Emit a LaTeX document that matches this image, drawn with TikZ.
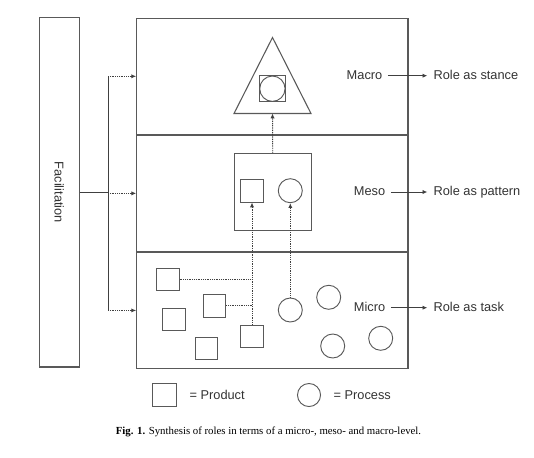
\documentclass[tikz,border=0pt]{standalone}
\usepackage{fontspec}
\setmainfont{Liberation Sans}
\newfontfamily\captionserif{Liberation Serif}
\usetikzlibrary{arrows.meta,positioning}
\begin{document}
\begin{tikzpicture}[x=0.75pt, y=-0.75pt, font=\fontsize{9.6}{11.5}\selectfont]
        \tikzset{
            frame/.style={draw=black!65, line width=0.8pt, inner sep=0pt},
            levelbox/.style={frame, minimum width=203.5pt, minimum height=87pt},
            prodbox/.style={draw=black!65, line width=0.7pt, minimum size=17pt, inner sep=0pt},
            procnode/.style={draw=black!65, line width=0.7pt, circle, minimum size=18pt, inner sep=0pt},
            solidline/.style={draw=black!75, line width=0.6pt},
            dotline/.style={draw=black!75, line width=0.7pt, dash pattern=on 0.75pt off 0.6pt},
            dotarrow/.style={dotline, -{Latex[length=3.6pt,width=3.2pt]}},
            plainarrow/.style={solidline, -{Latex[length=3.6pt,width=3.2pt]}},
            lvltext/.style={text=black!80, inner sep=4pt, text height=7pt, text depth=2pt},
            roletext/.style={text=black!80, anchor=west, inner sep=4.5pt, text height=7pt, text depth=2pt}
        }
        \useasboundingbox (0,0) rectangle (534,457);

        \node[frame, minimum width=30pt, minimum height=262pt] (fac) at (59.3,192.3) {};
        \node[rotate=-90, text=black!80] (factext) at (fac.center) {Facilitation};

        \node[levelbox] (macrolvl) at (272.35,76.3) {};
        \node[levelbox, below=0pt of macrolvl] (mesolvl) {};
        \node[levelbox, below=0pt of mesolvl] (microlvl) {};

        \coordinate (branch) at (108,0);
        \draw[solidline] (macrolvl.west -| branch) -- (microlvl.west -| branch);
        \draw[solidline] (fac.east) -- (fac.east -| branch);
        \draw[dotarrow] (macrolvl.west -| branch) -- (macrolvl.west);
        \draw[dotarrow] (mesolvl.west -| branch) -- (mesolvl.west);
        \draw[dotarrow] (microlvl.west -| branch) -- (microlvl.west);

        \begin{scope}
            \draw[frame] (272.5,37.5) -- (311,113.5) -- (234,113.5) -- cycle;
            \coordinate (tribase) at (272.5,113.5);
            \node[prodbox, minimum size=19.5pt] (macrosq) at (272.4,88.7) {};
            \node[procnode, minimum size=19pt] (macroc) at (macrosq) {};
        \end{scope}

        \begin{scope}
            \node[frame, minimum size=58pt] (mesobox) at (272.75,192) {};
            \node[prodbox] (mesosq) at (252,190.7) {};
            \node[procnode] (mesoc) at (290.3,190.7) {};
            \draw[dotarrow] (mesobox.north) -- (tribase);
        \end{scope}

        \begin{scope}
            \node[prodbox] (s1) at (167.7,279.3) {};
            \node[prodbox] (s2) at (214.3,305.8) {};
            \node[prodbox] (s3) at (174,319.3) {};
            \node[prodbox] (s4) at (206.3,348.3) {};
            \node[prodbox] (s5) at (252,336.5) {};
            \node[procnode] (c1) at (290.3,310) {};
            \node[procnode] (c2) at (328.7,297.3) {};
            \node[procnode] (c3) at (332.7,346) {};
            \node[procnode] (c4) at (380.7,338.3) {};
            \draw[dotline] (s1.east) -- (s1.east -| s5.north);
            \draw[dotline] (s2.east) -- (s2.east -| s5.north);
            \draw[dotarrow] (s5.north) -- (s5.north |- mesosq.south);
            \draw[dotarrow] (c1.north) -- (mesoc.south);
        \end{scope}

        \node[lvltext] (macrotxt) at (364.5,75.7) {Macro};
        \node[roletext] (stance) at (427.3,75.7) {Role as stance};
        \draw[plainarrow] (macrotxt.east) -- (stance.west);
        \node[lvltext] (mesotxt) at (369.5,192) {Meso};
        \node[roletext] (pattern) at (427.3,192) {Role as pattern};
        \draw[plainarrow] (mesotxt.east) -- (pattern.west);
        \node[lvltext] (microtxt) at (369.5,307.7) {Micro};
        \node[roletext] (task) at (427.3,307.7) {Role as task};
        \draw[plainarrow] (microtxt.east) -- (task.west);

        \node[prodbox, minimum size=17.5pt] (legprod) at (164.3,395) {};
        \node[anchor=west, inner sep=0pt, text=black!80] (legprodtxt) at (189.3,395) {= Product};
        \node[procnode, minimum size=17.3pt] (legproc) at (309,395) {};
        \node[anchor=west, inner sep=0pt, text=black!80] (legproctxt) at (333.3,395) {= Process};

        \node[font=\captionserif\fontsize{8.1}{9.5}\selectfont] (caption) at (268.5,432) {\textbf{Fig. 1.} Synthesis of roles in terms of a micro-, meso- and macro-level.};
\end{tikzpicture}
\end{document}
